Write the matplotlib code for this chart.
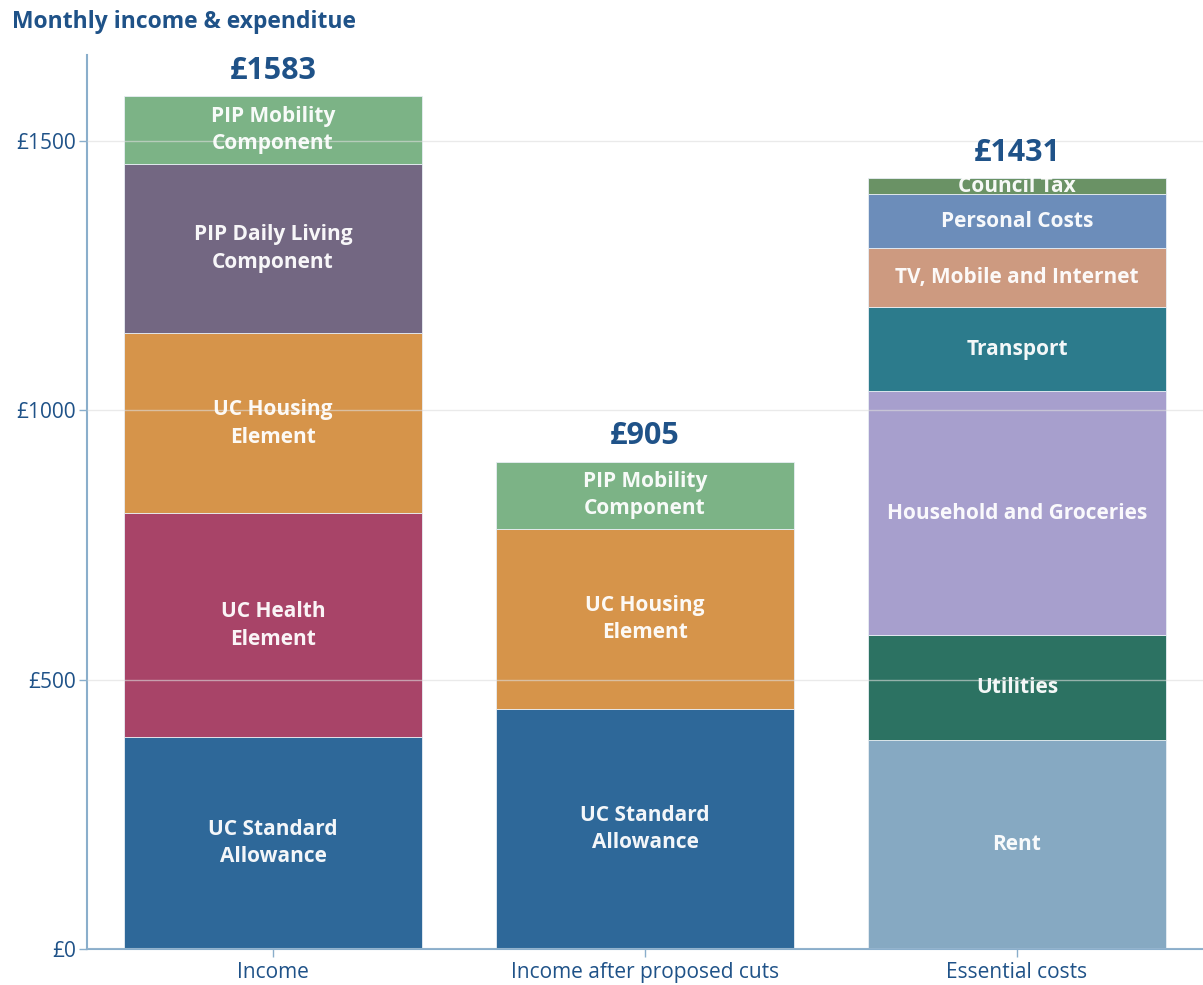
import matplotlib.pyplot as plt
from matplotlib.ticker import FuncFormatter

plt.rcParams['font.family'] = ['Open Sans', 'DejaVu Sans']

# Data (monthly, £)
categories = ["Income", "Income after proposed cuts", "Essential costs"]
totals = [1583, 905, 1431]

income_labels = ["UC Standard\nAllowance", "UC Health\nElement", "UC Housing\nElement",
                 "PIP Daily Living\nComponent", "PIP Mobility\nComponent"]
income_values = [393, 416, 334, 315, 125]
income_colors = ["#2e6899", "#a84468", "#d6944a", "#736782", "#7cb386"]

cut_labels = ["UC Standard\nAllowance", "UC Housing\nElement", "PIP Mobility\nComponent"]
cut_values = [445, 335, 125]
cut_colors = ["#2e6899", "#d6944a", "#7cb386"]

cost_labels = ["Rent", "Utilities", "Household and Groceries", "Transport",
               "TV, Mobile and Internet", "Personal Costs", "Council Tax"]
cost_values = [388, 195, 453, 156, 109, 100, 30]
cost_colors = ["#86a9c2", "#2c7262", "#a79fcd", "#2c7b8c", "#cd9a80", "#6c8dba", "#6a9265"]

stacks = [(income_labels, income_values, income_colors),
          (cut_labels, cut_values, cut_colors),
          (cost_labels, cost_values, cost_colors)]

blue = "#1f5288"
axis_col = "#8aaecb"

fig = plt.figure(figsize=(12.03, 9.85), dpi=100)
ax = fig.add_axes([87 / 1203, 36 / 985, 1 - 87 / 1203, 894 / 985])

for i, (labels, values, colors) in enumerate(stacks):
    bottom = 0
    for lab, val, col in zip(labels, values, colors):
        bar = ax.bar(i, val, bottom=bottom, width=0.8, color=col,
                     edgecolor="#e8eef4", linewidth=0.6, zorder=2)[0]
        t = ax.text(i, bottom + val / 2, lab, ha="center", va="center",
                    color="white", fontsize=15, fontweight="bold",
                    linespacing=1.4, zorder=4, alpha=0.95)
        t.set_clip_path(bar)
        bottom += val
    ax.text(i, totals[i] + 20, f"£{totals[i]}", ha="center", va="bottom",
            color=blue, fontsize=22, fontweight="bold")

ax.set_xlim(-0.5, 2.5)
ax.set_ylim(0, 1660)
ax.set_yticks([0, 500, 1000, 1500])
ax.yaxis.set_major_formatter(FuncFormatter(lambda v, p: f"£{int(v)}"))
ax.set_xticks(range(len(categories)))
ax.set_xticklabels(categories)
ax.tick_params(axis="both", colors=axis_col, labelcolor=blue, labelsize=15,
               length=6, width=1)
ax.tick_params(axis="y", pad=2)
ax.grid(axis="y", color="#dddddd", linewidth=1, alpha=0.6, zorder=3)
ax.set_axisbelow(False)
for s in ["top", "right"]:
    ax.spines[s].set_visible(False)
for s in ["left", "bottom"]:
    ax.spines[s].set_color(axis_col)
    ax.spines[s].set_linewidth(1.5)

fig.text(12 / 1203, 1 - 22 / 985, "Monthly income & expenditue", ha="left", va="center",
         color=blue, fontsize=16.5, fontweight="bold")

fig.savefig("out.png", dpi=100)
